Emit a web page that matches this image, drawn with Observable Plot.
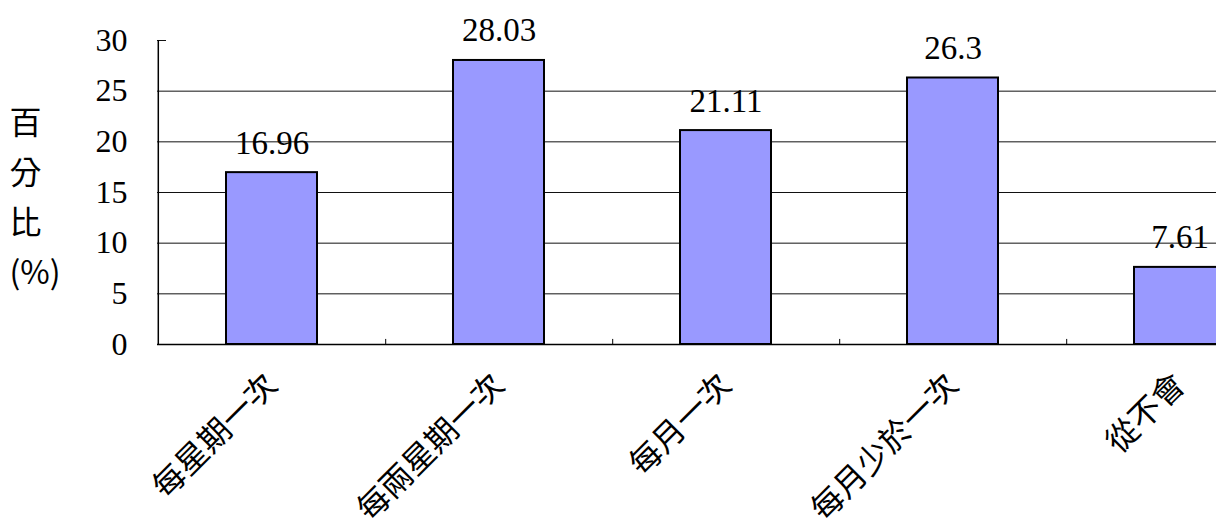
<!DOCTYPE html>
<html>
<head>
<meta charset="utf-8">
<script src="https://cdn.jsdelivr.net/npm/d3@7"></script>
<script src="https://cdn.jsdelivr.net/npm/@observablehq/plot@0.6"></script>
<style>
  html, body { margin: 0; padding: 0; background: #fff; overflow: hidden; }
  #chart { width: 1216px; height: 530px; overflow: hidden; }
  #chart svg { max-width: none !important; height: 530px !important; }
</style>
</head>
<body>
<div id="chart"></div>
<script>
const categories = ["每星期一次", "每兩星期一次", "每月一次", "每月少於一次", "從不會"];
const values = [16.96, 28.03, 21.11, 26.3, 7.61];
const valueLabels = ["16.96", "28.03", "21.11", "26.3", "7.61"];
const yTicks = [0, 5, 10, 15, 20, 25, 30];
const gridValues = [5, 10, 15, 20, 25];
const yTitle = "百\n分\n比\n(%)";

const data = categories.map((c, i) => ({cat: c, value: values[i], label: valueLabels[i]}));

const width = 1300, marginLeft = 157, marginRight = 6;
const innerWidth = width - marginLeft - marginRight;
const step = innerWidth / categories.length;

const chart = Plot.plot({
  width,
  height: 530,
  marginLeft,
  marginRight,
  marginTop: 40,
  marginBottom: 186,
  style: {background: "white", color: "#000", fontFamily: "Liberation Serif"},
  x: {domain: categories, paddingInner: 0.6, paddingOuter: 0.3, label: null},
  y: {domain: [0, 30], ticks: yTicks, label: null},
  marks: [
    Plot.ruleY(gridValues, {stroke: "#111", strokeWidth: 1}),
    Plot.ruleY([30], {stroke: "#111", strokeWidth: 1, insetRight: innerWidth - 9}),
    Plot.barY(data, {x: "cat", y: "value", fill: "#9999FF", stroke: "#000", strokeWidth: 2}),
    Plot.ruleY([0], {stroke: "#000", strokeWidth: 1.5}),
    Plot.ruleX([categories[0]], {y1: 0, y2: 30, dx: -step / 2, stroke: "#000", strokeWidth: 1.5}),
    Plot.ruleX(categories, {y1: 0, y2: 0.5, dx: step / 2, stroke: "#000", strokeWidth: 1}),
    Plot.text(data, {x: "cat", y: "value", text: "label", lineAnchor: "bottom", dy: -19, fontSize: 33, fontFamily: "Liberation Serif", fill: "#000"}),
    Plot.axisY({ticks: yTicks, tickSize: 0, tickPadding: 30, fontSize: 32, fontFamily: "Liberation Serif"}),
    Plot.axisX({tickRotate: -45, tickSize: 0, tickPadding: 35, fontSize: 32, fontFamily: "Noto Sans CJK TC", label: null}),
    Plot.text([yTitle], {frameAnchor: "left", textAnchor: "start", dx: -148, lineHeight: 1.5625, fontSize: 32, fontFamily: "Noto Sans CJK TC", fill: "#000"})
  ]
});
document.getElementById("chart").appendChild(chart);
</script>
</body>
</html>
